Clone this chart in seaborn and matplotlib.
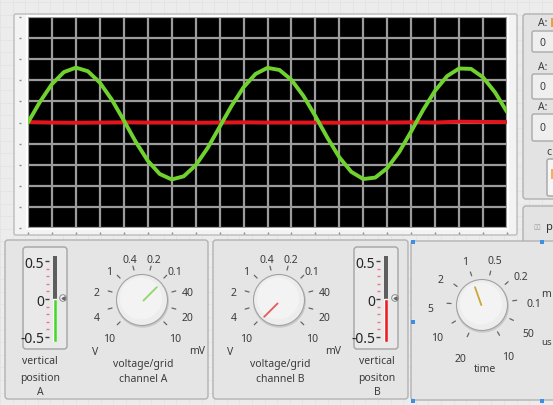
import numpy as np
import matplotlib
matplotlib.use("Agg")
import matplotlib.pyplot as plt
import seaborn as sns
from matplotlib.patches import FancyBboxPatch, Rectangle, Circle
from matplotlib.ticker import MultipleLocator

sns.set_style("white")
plt.rcParams["font.family"] = ["Noto Sans", "DejaVu Sans"]

# -------------------- data --------------------
# time base in grid divisions (0.5 div samples for channel A, 1 div for B)
t_a = np.arange(0, 20.5, 0.5)
t_b = np.arange(0, 21, 1)
# channel A (green) in divisions
chan_a = [0.00, 0.98, 1.82, 2.39, 2.60, 2.43, 1.89, 1.08, 0.10, -0.92,
          -1.81, -2.44, -2.70, -2.55, -2.03, -1.21, -0.21, 0.79, 1.67, 2.30,
          2.59, 2.49, 2.02, 1.26, 0.30, -0.72, -1.65, -2.34, -2.68, -2.61,
          -2.16, -1.40, -0.42, 0.60, 1.51, 2.20, 2.56, 2.54, 2.14, 1.43, 0.50]
# channel B (red) in divisions - flat line
chan_b = [0.02, 0.00, -0.01, 0.00, 0.01, 0.00, 0.00, -0.01, 0.00, 0.01, 0.00,
          0.00, 0.00, -0.01, 0.00, 0.00, 0.01, 0.00, 0.04, 0.03, 0.02]

volt_labels = ["10", "4", "2", "1", "0.4", "0.2", "0.1", "40", "20", "10"]
time_labels = ["20", "10", "5", "2", "1", "0.5", "0.2", "0.1", "50", "10"]
volt_a_setting = 6   # index into volt_labels
volt_b_setting = 0
time_setting = 4

slider_ticks = [-0.5, 0, 0.5]
slider_labels = ["-0.5", "0", "0.5"]
pos_a = 0.0
pos_b = 0.0

TXT = "#3c3c3c"
FS = 7.5

# -------------------- canvas in pixel coords --------------------
W, H = 553, 406
fig = plt.figure(figsize=(W / 100, H / 100), dpi=100)
fig.patch.set_facecolor("#ececec")
bg = fig.add_axes([0, 0, 1, 1])
bg.set_xlim(0, W)
bg.set_ylim(H, 0)
bg.axis("off")

for gx_ in np.arange(0, W, 12.6):
    bg.axvline(gx_, color="#e3e3e3", lw=0.6, zorder=0)
for gy_ in np.arange(3, H, 12.6):
    bg.axhline(gy_, color="#e3e3e3", lw=0.6, zorder=0)


def px_axes(x0, y0, x1, y1):
    return fig.add_axes([x0 / W, 1 - y1 / H, (x1 - x0) / W, (y1 - y0) / H])


def box(x0, y0, x1, y1, fc, ec, r=3, lw=1.0, z=1):
    bg.add_patch(FancyBboxPatch((x0, y0), x1 - x0, y1 - y0,
                                boxstyle=f"round,pad=0,rounding_size={r}",
                                fc=fc, ec=ec, lw=lw, zorder=z))


# -------------------- graph --------------------
box(14, 15, 517, 236, "#f3f3f3", "#bcbcbc", r=2)
bg.add_patch(Rectangle((26, 16), 483, 215, fc="white", ec="none", zorder=2))

ax = px_axes(28, 18, 507, 229)
ax.set_facecolor("black")
ax.set_xlim(0, 20)
ax.set_ylim(-5, 5)
ax.set_xticks(np.arange(0, 21, 1))
ax.set_yticks(np.arange(-5, 6, 1))
ax.grid(True, color="#9c9c9c", lw=1.6)
ax.tick_params(left=True, bottom=True, length=1.5, width=1, color="#8a8a8a",
               labelleft=False, labelbottom=False)
for s in ax.spines.values():
    s.set_visible(False)
ax.spines["left"].set_position(("outward", 5))
ax.spines["bottom"].set_position(("outward", 3))

sns.lineplot(x=t_b, y=chan_b, ax=ax, color="#e3141c", lw=2.8,
             estimator=None, legend=False)
sns.lineplot(x=t_a, y=chan_a, ax=ax, color="#70d22e", lw=2.8,
             estimator=None, legend=False)
ax.set_xlabel("")
ax.set_ylabel("")

# -------------------- right-hand panel --------------------
box(523, 15, 570, 200, "#e3e3e3", "#b0b0b0")
for ly, by0, by1, ty in [(24, 32, 53, 44), (67, 75, 100, 88), (107, 115, 142, 129)]:
    bg.text(538, ly, "A:", fontsize=FS, color=TXT, ha="left", va="center", zorder=3)
    box(532, by0, 575, by1, "#efefef", "#a9a9a9", r=2, z=3)
    bg.text(542, ty, "0", fontsize=FS, color=TXT, ha="center", va="center", zorder=4)
bg.add_patch(Rectangle((551, 19), 3, 9, fc="#e8a040", ec="none", zorder=3))
bg.text(546, 153, "c", fontsize=FS, color=TXT, ha="left", va="center", zorder=3)
box(547, 160, 575, 197, "#f6f6f6", "#a3a3a3", r=2, z=3)
bg.add_patch(Rectangle((551, 170), 3, 10, fc="#f0b060", ec="none", zorder=4))
box(523, 207, 575, 245, "#e3e3e3", "#b0b0b0")
bg.text(533, 228, "▯▯", fontsize=5, color="#9a9a9a", ha="left", va="center", zorder=3)
bg.text(546, 228, "p", fontsize=FS + 0.5, color="#333", ha="left", va="center",
        fontweight="bold", zorder=3)

# -------------------- bottom panels --------------------
box(5, 241, 208, 400, "#e5e5e5", "#b2b2b2")
box(213, 241, 408, 400, "#e5e5e5", "#b2b2b2")
box(411, 242, 575, 401, "#e5e5e5", "#b2b2b2")
for hx, hy in [(413, 243), (542, 243), (413, 323), (413, 402), (542, 402)]:
    bg.add_patch(Rectangle((hx - 2, hy - 2), 4, 4, fc="#3d8ee6", ec="none", zorder=6))


def slider(x0, color, value, ptr_x):
    box(x0 - 30, 248, x0 + 14, 350, "#e9e9e9", "#a4a4a4", r=3, z=2)
    sx = px_axes(x0, 257, x0 + 4, 343)
    lo, hi = -0.566, 0.566
    sx.set_ylim(lo, hi)
    sx.set_xlim(0, 1)
    sx.set_facecolor("#5e5e5e")
    sx.bar(0.5, value - lo, bottom=lo, width=1, color=color)
    sx.set_xticks([])
    sx.set_yticks(slider_ticks)
    sx.set_yticklabels(slider_labels, fontsize=7, color="#333")
    sx.yaxis.set_minor_locator(MultipleLocator(0.1))
    sx.tick_params(axis="y", which="both", left=True)
    sx.tick_params(axis="y", which="major", length=3, width=1, color="#444", pad=0.5)
    sx.tick_params(axis="y", which="minor", length=2, width=1, color="#ec7585")
    for s in sx.spines.values():
        s.set_visible(False)
    sx.spines["left"].set_position(("outward", 3))
    bg.add_patch(Circle((ptr_x, 299), 3.3, fc="#f6f6f6", ec="#8a8a8a", lw=0.7, zorder=5))
    bg.plot(ptr_x, 299, marker="<", ms=2.2, color="#666", zorder=6)


def knob(cx, cy, labels, a0, a1, setting, ptr_color, r_lab, lab_dy, r_tick=(31, 35)):
    angles = np.linspace(a0, a1, len(labels))
    for lab, ang in zip(labels, angles):
        a = np.deg2rad(ang)
        bg.plot([cx + r_tick[0] * np.cos(a), cx + r_tick[1] * np.cos(a)],
                [cy - r_tick[0] * np.sin(a), cy - r_tick[1] * np.sin(a)],
                color="#666", lw=0.9, zorder=3)
        bg.text(cx + r_lab * np.cos(a), cy + lab_dy - r_lab * np.sin(a), lab,
                fontsize=FS, color=TXT, ha="center", va="center", zorder=3)
    bg.add_patch(Circle((cx + 0.5, cy + 1.2), 26.5, fc="#c9c9c9", ec="none", zorder=3))
    bg.add_patch(Circle((cx, cy), 25.5, fc="#ededed", ec="#a2a2a2", lw=0.8, zorder=3))
    bg.add_patch(Circle((cx - 1, cy - 1.5), 21, fc="#f3f3f3", ec="none", zorder=3))
    a = np.deg2rad(angles[setting])
    bg.plot([cx + 2 * np.cos(a), cx + 21 * np.cos(a)],
            [cy + 2 - 2 * np.sin(a), cy + 2 - 21 * np.sin(a)],
            color=ptr_color, lw=1.3, zorder=4, solid_capstyle="round")


# channel A
slider(53, "#47d82a", pos_a, 63)
for ty, s in [(362, "vertical"), (379, "position"), (393, "A")]:
    bg.text(40, ty, s, fontsize=FS, color=TXT, ha="center", va="center", zorder=3)
knob(142, 301, volt_labels, 225, -45, volt_a_setting, "#8fd86a", 47, 5)
bg.text(95, 353, "V", fontsize=FS, color=TXT, ha="center", va="center", zorder=3)
bg.text(197, 352, "mV", fontsize=FS, color=TXT, ha="center", va="center", zorder=3)
bg.text(143, 365, "voltage/grid", fontsize=FS, color=TXT, ha="center", va="center", zorder=3)
bg.text(143, 380, "channel A", fontsize=FS, color=TXT, ha="center", va="center", zorder=3)

# channel B
knob(279, 301, volt_labels, 225, -45, volt_b_setting, "#e65a5a", 47, 5)
bg.text(230, 353, "V", fontsize=FS, color=TXT, ha="center", va="center", zorder=3)
bg.text(333, 352, "mV", fontsize=FS, color=TXT, ha="center", va="center", zorder=3)
bg.text(280, 365, "voltage/grid", fontsize=FS, color=TXT, ha="center", va="center", zorder=3)
bg.text(280, 380, "channel B", fontsize=FS, color=TXT, ha="center", va="center", zorder=3)
slider(384, "#ee1c24", pos_b, 395)
for ty, s in [(362, "vertical"), (379, "positon"), (393, "B")]:
    bg.text(377, ty, s, fontsize=FS, color=TXT, ha="center", va="center", zorder=3)

# time base
knob(482, 306, time_labels, 245, -60, time_setting, "#c9a83a", 52, 6)
bg.text(551, 295, "m", fontsize=FS, color=TXT, ha="right", va="center", zorder=3)
bg.text(552, 343, "us", fontsize=FS - 0.5, color=TXT, ha="right", va="center", zorder=3)
bg.text(485, 370, "time", fontsize=FS, color=TXT, ha="center", va="center", zorder=3)

fig.savefig("out.png", dpi=100)
